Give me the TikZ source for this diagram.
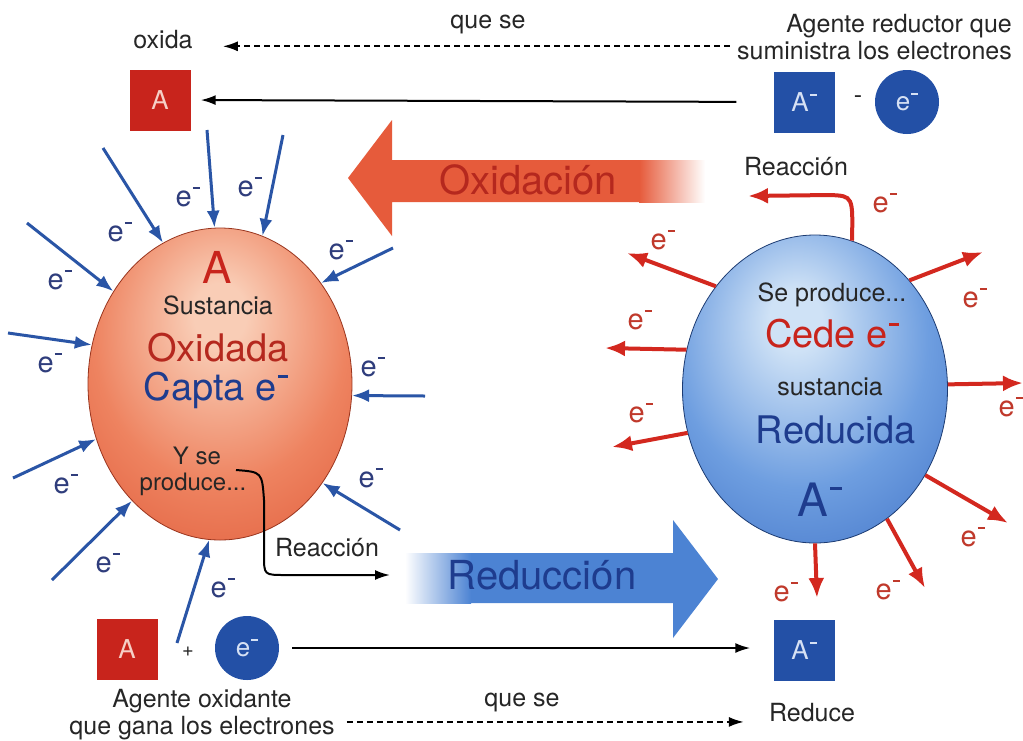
\documentclass[tikz,border=0pt]{standalone}
\usepackage{fontspec}
\setmainfont{TeX Gyre Heros}
\usetikzlibrary{arrows.meta,shapes.geometric}

\definecolor{sqred}{HTML}{C8241C}
\definecolor{sqredtxt}{HTML}{F6CFC6}
\definecolor{sqblue}{HTML}{2350A6}
\definecolor{sqbluetxt}{HTML}{D6E1F4}
\definecolor{arblue}{HTML}{2A55A6}
\definecolor{arred}{HTML}{D3281F}
\definecolor{oxfill}{HTML}{E65B3B}
\definecolor{oxtext}{HTML}{B5281E}
\definecolor{rdfill}{HTML}{4C83D3}
\definecolor{rdtext}{HTML}{1E3C8E}
\definecolor{rhi}{HTML}{F9CDB6}
\definecolor{rmid}{HTML}{EE8360}
\definecolor{redge}{HTML}{DA4A2A}
\definecolor{bhi}{HTML}{CFE2F6}
\definecolor{bmid}{HTML}{6E9EE0}
\definecolor{bedge}{HTML}{2F62BE}
\definecolor{ink}{HTML}{262626}
\definecolor{eink}{HTML}{2F3D7C}
\definecolor{ered}{HTML}{C0392B}

\newcommand{\negsup}{\kern0.04em\raisebox{0.58em}{\rule{0.26em}{0.075em}}}

\pgfdeclareradialshading{redball}{\pgfpoint{0bp}{12bp}}{color(0bp)=(rhi); color(5bp)=(rhi); color(24bp)=(rmid); color(48bp)=(redge); color(72bp)=(redge)}
\pgfdeclareradialshading{blueball}{\pgfpoint{-4bp}{12bp}}{color(0bp)=(bhi); color(5bp)=(bhi); color(24bp)=(bmid); color(48bp)=(bedge); color(72bp)=(bedge)}

\tikzset{
  lbl/.style={font=\fontsize{25}{27}\selectfont, text=ink, inner sep=0pt},
  bigword/.style={font=\fontsize{38}{40}\selectfont, inner sep=0pt},
  elbl/.style={font=\fontsize{29}{30}\selectfont, inner sep=0pt},
  sqbox/.style={minimum size=61pt, inner sep=0pt, font=\fontsize{26}{28}\selectfont},
  ecirc/.style={circle, minimum size=64pt, inner sep=0pt, fill=sqblue, text=sqbluetxt, font=\fontsize{26}{28}\selectfont},
  inarrow/.style={arblue, line width=3pt, -{Latex[length=17pt,width=13pt]}},
  outarrow/.style={arred, line width=4pt, -{Latex[length=20pt,width=16pt]}},
  reacline/.style={black, line width=2pt, -{Latex[length=15pt,width=10pt]}},
  dashline/.style={black, line width=2pt, dash pattern=on 6pt off 4pt, -{Latex[length=15pt,width=10pt]}},
}

\begin{document}
\begin{tikzpicture}[x=1pt, y=-1pt]
\useasboundingbox[fill=white] (0,0) rectangle (1023,740);

% Top row: the reducing agent gives its electron away
\node[lbl] (oxida) at (163,40) {oxida};
\node[lbl] (quese1) at (488,24) {que se};
\node[lbl, align=right, anchor=east] (agred) at (1012,37) {Agente reductor que\\suministra los electrones};
\node[sqbox, fill=sqred, text=sqredtxt] (Atop) at (160,100) {A};
\node[sqbox, fill=sqblue, text=sqbluetxt] (Amtop) at (804,102) {A\negsup};
\node[lbl] (minus) at (858,100) {-};
\node[ecirc] (etop) at (907,102) {e\negsup};
\draw[dashline, shorten <=7pt, shorten >=30pt] (oxida.mid east -| agred.west) -- (oxida.mid east);
\draw[reacline, shorten <=37pt, shorten >=10pt] (Amtop.west) -- (Atop.east);

% Big process arrows
\fill[oxfill] (348,178) -- (392,120) -- (392,160) -- (640,160) -- (640,202) -- (392,202) -- (392,236) -- cycle;
\shade[left color=oxfill, right color=white] (639,160) rectangle (705,202);
\node[bigword, text=oxtext, font=\fontsize{40}{42}\selectfont] (oxlbl) at (528,180) {Oxidación};
\fill[rdfill] (470,553) -- (673,553) -- (673,520) -- (718,579) -- (673,638) -- (673,603) -- (470,603) -- cycle;
\shade[left color=white, right color=rdfill] (405,553) rectangle (471,603);
\node[bigword, text=rdtext, font=\fontsize{40}{42}\selectfont] (rdlbl) at (542,575) {Reducción};

% Oxidised substance
\node[ellipse, minimum width=264pt, minimum height=312pt, shading=redball, draw=redge!70!black, line width=0.8pt] (rb) at (220,384) {};
\node[text=sqred, font=\fontsize{44}{46}\selectfont, inner sep=0pt] (rbA) at (217,267) {A};
\node[lbl] (rbsus) at (218,305) {Sustancia};
\node[bigword, text=oxtext] (rbox) at (218,348) {Oxidada};
\node[bigword, text=rdtext] (rbcap) at (216,390) {Capta e\negsup};
\node[lbl, font=\fontsize{24}{26}\selectfont] (rbyse) at (197,456) {Y se};
\node[lbl, font=\fontsize{24}{26}\selectfont] (rbprod) at (193,484) {produce...};

% Reduced substance
\node[ellipse, minimum width=265pt, minimum height=308pt, shading=blueball, draw=bedge!60!black, line width=0.8pt] (bb) at (815,389) {};
\node[lbl] (bbprod) at (832,295) {Se produce...};
\node[bigword, text=sqred] (bbcede) at (832,334) {Cede e\negsup};
\node[lbl] (bbsus) at (830,387) {sustancia};
\node[bigword, text=rdtext] (bbred) at (836,430) {Reducida};
\node[text=rdtext, font=\fontsize{46}{48}\selectfont, inner sep=0pt] (bbA) at (820,500) {A\negsup};

% Reaction paths
\coordinate (rstart) at (236,470);
\coordinate (rend) at (390,575);
\draw[reacline] (rstart) .. controls (262,472) .. (264,500) -- (264,555) .. controls (264,575) .. (285,575) -- (rend);
\node[lbl] (reacl) at (327,548) {Reacción};
\coordinate (rtip) at (748,196);
\draw[outarrow] (bb.76.5) .. controls (853,196) .. (830,195) -- (rtip);
\node[lbl] (reacr) at (796,167) {Reacción};
\node[elbl, text=ered] (er0) at (885,203) {e\negsup};

% Electrons arriving at A
\coordinate (ta) at (27,223);
\coordinate (tb) at (103,148);
\coordinate (tc) at (207,130);
\coordinate (td) at (283,135);
\coordinate (te) at (8,333);
\coordinate (tf) at (13,478);
\coordinate (tg) at (52,580);
\coordinate (th) at (177,643);
\coordinate (ti) at (393,248);
\coordinate (tj) at (425,396);
\coordinate (tk) at (400,530);
\draw[inarrow] (ta) -- (rb.139.5);
\draw[inarrow] (tb) -- (rb.112);
\draw[inarrow] (tc) -- (rb.92);
\draw[inarrow] (td) -- (rb.74.5);
\draw[inarrow] (te) -- (rb.163);
\draw[inarrow] (tf) -- (rb.204);
\draw[inarrow] (tg) -- (rb.233);
\draw[inarrow] (th) -- (rb.266);
\draw[inarrow] (ti) -- (rb.45);
\draw[inarrow] (tj) -- (rb.355);
\draw[inarrow] (tk) -- (rb.316);
\node[elbl, text=eink] (ea) at (60,280) {e\negsup};
\node[elbl, text=eink] (eb) at (120,232) {e\negsup};
\node[elbl, text=eink] (ec) at (188,197) {e\negsup};
\node[elbl, text=eink] (ed) at (250,187) {e\negsup};
\node[elbl, text=eink] (ee) at (50,363) {e\negsup};
\node[elbl, text=eink] (ef) at (66,484) {e\negsup};
\node[elbl, text=eink] (eg) at (108,563) {e\negsup};
\node[elbl, text=eink] (eh) at (223,588) {e\negsup};
\node[elbl, text=eink] (ei) at (341,250) {e\negsup};
\node[elbl, text=eink] (ej) at (373,367) {e\negsup};
\node[elbl, text=eink] (ek) at (371,478) {e\negsup};

% Electrons leaving A-
\coordinate (ha) at (627,253);
\coordinate (hb) at (605,348);
\coordinate (hc) at (612,447);
\coordinate (hd) at (983,252);
\coordinate (he) at (1023,383);
\coordinate (hf) at (1008,523);
\coordinate (hg) at (925,588);
\coordinate (hh) at (817,598);
\draw[outarrow] (bb.134) -- (ha);
\draw[outarrow] (bb.163) -- (hb);
\draw[outarrow] (bb.199) -- (hc);
\draw[outarrow] (bb.49.5) -- (hd);
\draw[outarrow] (bb.2.5) -- (he);
\draw[outarrow] (bb.322) -- (hf);
\draw[outarrow] (bb.299) -- (hg);
\draw[outarrow] (bb.270) -- (hh);
\node[elbl, text=ered] (er1) at (663,240) {e\negsup};
\node[elbl, text=ered] (er2) at (640,320) {e\negsup};
\node[elbl, text=ered] (er3) at (641,413) {e\negsup};
\node[elbl, text=ered] (er4) at (975,298) {e\negsup};
\node[elbl, text=ered] (er5) at (1011,407) {e\negsup};
\node[elbl, text=ered] (er6) at (973,537) {e\negsup};
\node[elbl, text=ered] (er7) at (888,590) {e\negsup};
\node[elbl, text=ered] (er8) at (786,592) {e\negsup};

% Bottom row: the oxidising agent takes the electron
\node[sqbox, fill=sqred, text=sqredtxt] (Abot) at (127,649) {A};
\node[lbl, font=\fontsize{20}{22}\selectfont] (plus) at (188,652) {+};
\node[ecirc] (ebot) at (247,648) {e\negsup};
\node[sqbox, fill=sqblue, text=sqbluetxt] (Ambot) at (804,650) {A\negsup};
\node[lbl, align=center] (agox) at (202,715) {Agente oxidante\\que gana los electrones};
\node[lbl] (quese2) at (522,702) {que se};
\node[lbl] (reduce) at (812,713) {Reduce};
\draw[reacline, shorten <=13pt, shorten >=23pt] (ebot.east) -- (ebot.east -| Ambot.west);
\draw[dashline, shorten <=12pt, shorten >=25pt] (reduce.base west -| agox.east) -- (reduce.base west);

\end{tikzpicture}
\end{document}
